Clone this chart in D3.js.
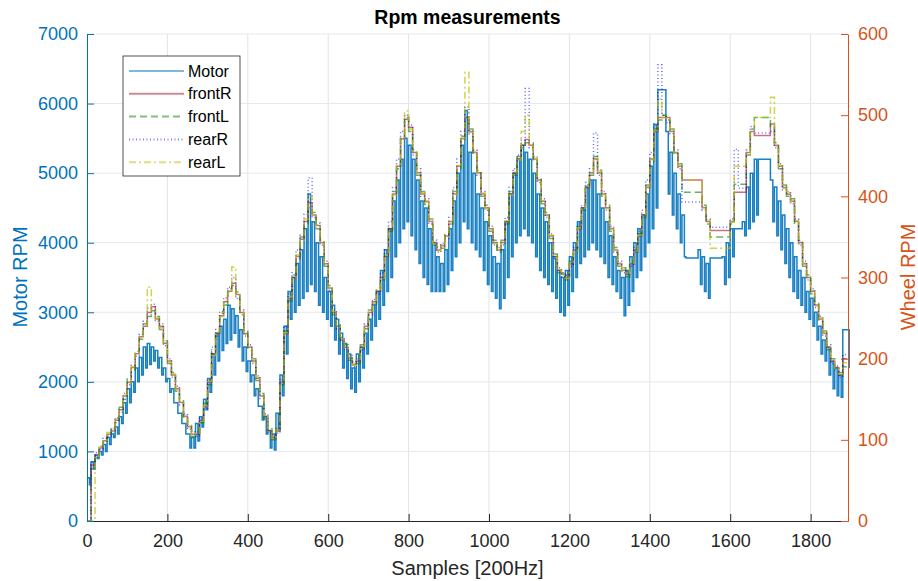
<!DOCTYPE html>
<html>
<head>
<meta charset="utf-8">
<script src="https://cdn.jsdelivr.net/npm/d3@7"></script>
<style>
  body { margin: 0; background: #fff; }
  svg { font-family: "Liberation Sans", Arial, sans-serif; }
</style>
</head>
<body>
<svg id="chart" width="918" height="581"></svg>
<script>
// samples step 10 (0..1890), motor as upper / lower values of the noisy band
var motorHi = [620,850,950,1000,1100,1200,1250,1350,1500,1700,
  1900,2000,2200,2350,2500,2550,2500,2450,2350,2200,
  2050,1900,1700,1550,1400,1250,1200,1400,1500,1750,
  2050,2400,2700,2800,2900,3100,3050,2950,2750,2500,
  2300,2100,1900,1650,1500,1300,1250,1550,2100,2800,
  3300,3500,3700,3900,4200,4700,4300,4000,3800,3500,
  3300,3100,2900,2700,2550,2400,2200,2400,2500,2700,
  2900,3100,3300,3600,3900,4200,4600,4900,5200,5500,
  5400,5200,4900,4600,4500,4200,4000,3800,3700,3900,
  4200,4600,5000,5400,5900,5300,5000,4700,4500,4300,
  4100,3800,3700,3900,4300,4700,5000,5200,5400,5300,
  5200,5000,4700,4500,4300,4000,3800,3600,3500,3600,
  3800,4000,4300,4500,4800,4900,4900,4700,4500,4300,
  4100,3800,3600,3500,3600,3800,4000,4200,4400,4700,
  5100,5700,6200,6200,5600,5300,5000,4700,4400,3780,
  3780,3780,3900,3800,3700,3780,3780,3780,3800,4000,
  4200,4200,4200,4300,4800,5000,5200,5200,5200,5200,
  4900,4800,4600,4400,4200,4000,3800,3600,3500,3300,
  3200,3000,2800,2600,2500,2300,2200,2100,2750,2750];
var motorLo = [520,750,900,950,1000,1100,1200,1250,1400,1550,
  1700,1850,2000,2100,2200,2250,2300,2200,2100,2000,
  1850,1700,1550,1400,1250,1050,1050,1150,1350,1600,
  1850,2100,2300,2450,2550,2600,2700,2500,2300,2150,
  2000,1800,1650,1450,1250,1050,1020,1300,1800,2400,
  2900,3000,3100,3200,3300,3400,3300,3100,3000,2900,
  2800,2600,2400,2200,2050,1900,1850,2000,2200,2400,
  2600,2800,2900,3100,3300,3500,3800,4000,4200,4300,
  4100,3900,3700,3500,3400,3300,3300,3300,3300,3400,
  3600,3800,4000,4300,4200,4000,3900,3800,3600,3400,
  3300,3200,3050,3200,3500,3800,4000,4100,4200,4100,
  4000,3800,3600,3500,3400,3300,3200,3000,2950,3100,
  3300,3500,3700,3800,3900,4000,3900,3800,3700,3500,
  3400,3300,3200,2950,3100,3300,3500,3600,3800,4000,
  4200,4500,6200,6200,4700,4400,4200,4000,3800,3780,
  3780,3780,3400,3300,3200,3780,3780,3780,3400,3500,
  3800,4200,4200,4100,4200,4300,4400,5200,5200,5200,
  4300,4100,3900,3700,3500,3300,3200,3100,3000,2900,
  2800,2600,2400,2300,2100,1900,1800,1780,2750,2200];

// wheel rpm, step 10
var frontR = [0,69,81,90,99,107,111,124,137,154,
  171,189,206,227,240,257,264,249,240,219,
  197,180,163,146,129,116,107,107,124,141,
  171,206,231,253,270,283,293,279,257,231,
  214,197,176,154,129,111,103,111,171,231,
  274,300,326,347,369,392,377,364,343,317,
  287,257,240,223,214,201,193,197,214,240,
  257,270,283,300,326,360,403,437,471,495,
  485,454,429,403,394,369,343,334,339,351,
  369,403,437,471,497,480,454,429,403,386,
  360,343,334,343,369,403,429,446,463,470,
  463,446,420,394,377,351,326,309,304,300,
  317,334,360,386,411,429,446,429,403,386,
  360,334,317,309,304,317,334,351,377,411,
  446,480,497,497,497,480,454,437,420,420,
  420,420,420,386,369,358,358,358,358,358,
  369,405,405,405,454,480,475,475,475,475,
  489,463,437,411,403,394,369,343,317,300,
  283,266,249,231,214,197,189,180,200,200];
var frontL = [0,64,78,92,97,105,113,121,140,150,
  175,186,209,224,243,252,259,252,236,222,
  194,183,160,149,126,118,104,110,121,145,
  168,209,228,256,266,286,290,282,254,234,
  211,200,173,157,126,114,100,114,168,234,
  271,303,323,350,366,386,380,360,346,314,
  290,254,243,220,217,198,196,194,217,237,
  260,267,286,297,329,357,406,434,474,497,
  480,457,426,406,390,372,340,337,336,354,
  366,406,434,474,494,483,451,432,400,389,
  357,346,331,346,366,406,426,449,460,466,
  466,443,423,391,380,348,329,306,306,297,
  320,331,363,383,414,426,449,432,400,389,
  357,337,314,312,301,320,331,354,374,414,
  443,483,494,500,494,483,451,440,405,405,
  405,405,405,389,366,350,350,350,350,350,
  366,415,415,415,451,483,497,497,497,497,
  486,466,434,414,400,397,366,346,314,303,
  280,269,246,234,211,200,186,183,190,190];
var rearR = [0,72,84,88,102,104,114,127,134,157,
  168,192,203,230,246,262,267,246,243,216,
  200,177,166,143,132,113,110,104,127,138,
  174,214,236,258,275,288,300,274,260,228,
  217,194,179,151,132,108,106,108,174,240,
  280,306,334,352,378,423,374,367,340,320,
  284,260,237,226,211,204,190,200,211,243,
  254,273,280,306,334,369,411,446,480,500,
  488,451,434,400,397,366,346,331,342,348,
  374,411,446,480,510,477,457,426,406,383,
  363,340,337,340,374,411,434,451,469,533,
  460,449,417,397,374,354,323,312,301,303,
  314,337,366,389,417,434,478,426,406,383,
  363,331,320,306,307,314,337,357,383,420,
  454,489,562,500,491,477,457,434,393,393,
  393,393,393,383,372,362,362,362,362,362,
  372,458,410,410,457,486,478,478,478,478,
  480,460,440,408,406,391,372,340,320,297,
  286,263,252,228,217,194,191,177,205,205];
var rearL = [0,0,80,91,98,109,110,126,136,156,
  170,190,208,226,242,288,260,250,238,220,
  196,181,162,147,128,117,106,108,123,142,
  172,204,233,252,272,282,313,278,258,230,
  215,196,177,153,130,110,102,112,170,232,
  276,299,328,346,372,400,376,365,342,318,
  286,258,239,224,213,202,192,198,215,238,
  258,269,285,299,327,362,402,438,472,505,
  483,455,428,404,393,370,342,333,340,350,
  370,402,438,472,553,479,455,428,404,385,
  361,342,335,342,370,402,430,445,480,500,
  462,447,419,395,376,352,325,310,303,299,
  318,333,361,385,412,428,447,430,402,385,
  361,333,318,308,305,318,333,352,376,412,
  445,481,520,497,496,481,453,438,420,420,
  420,420,420,387,370,336,336,336,336,336,
  368,437,437,437,453,479,497,497,497,497,
  522,462,438,410,404,393,370,342,318,301,
  284,265,250,232,213,198,188,181,195,195];

var xTicks = [0,200,400,600,800,1000,1200,1400,1600,1800];
var leftTicks = [0,1000,2000,3000,4000,5000,6000,7000];
var rightTicks = [0,100,200,300,400,500,600];
var seriesNames = ["Motor","frontR","frontL","rearR","rearL"];

var svg = d3.select("#chart");
var pLeft = 87, pRight = 848, pTop = 34, pBottom = 521;

var x = d3.scaleLinear().domain([0, 1893]).range([pLeft, pRight]);
var yL = d3.scaleLinear().domain([0, 7000]).range([pBottom, pTop]);
var yR = d3.scaleLinear().domain([0, 600]).range([pBottom, pTop]);

// grid
svg.append("g").selectAll("line").data(xTicks.slice(1)).enter().append("line")
  .attr("x1", function(d) { return x(d); }).attr("x2", function(d) { return x(d); })
  .attr("y1", pTop).attr("y2", pBottom)
  .attr("stroke", "#e3e3e3").attr("stroke-width", 1);
svg.append("g").selectAll("line").data(leftTicks.slice(1)).enter().append("line")
  .attr("x1", pLeft).attr("x2", pRight)
  .attr("y1", function(d) { return yL(d); }).attr("y2", function(d) { return yL(d); })
  .attr("stroke", "#e2e9f0").attr("stroke-width", 1);

// series: motor sits on the upper value, short drops to the lower one
var motorPts = [];
motorHi.forEach(function(v, i) {
  motorPts.push([i * 10, v]);
  motorPts.push([i * 10 + 6, motorLo[i]]);
});
var wheelPts = function(arr) { return arr.map(function(v, i) { return [i * 10, v]; }); };

var plot = svg.append("g");
var lineM = d3.line().curve(d3.curveStepAfter)
  .x(function(d) { return x(d[0]); }).y(function(d) { return yL(d[1]); });
var lineR = d3.line().curve(d3.curveStepAfter)
  .x(function(d) { return x(d[0]); }).y(function(d) { return yR(d[1]); });

var styles = [
  {color: "#0072BD", dash: null, op: 0.9},
  {color: "#A2142F", dash: null, op: 0.6},
  {color: "#008000", dash: "7,4", op: 0.6},
  {color: "#0000FF", dash: "1,2.5", op: 0.6},
  {color: "#BFBF00", dash: "7,3,2,3", op: 0.7}
];

plot.append("path").attr("d", lineM(motorPts))
  .attr("fill", "none").attr("stroke", styles[0].color)
  .attr("stroke-opacity", styles[0].op).attr("stroke-width", 1.5);

[frontR, frontL, rearR, rearL].forEach(function(arr, k) {
  var s = styles[k + 1];
  plot.append("path").attr("d", lineR(wheelPts(arr)))
    .attr("fill", "none").attr("stroke", s.color)
    .attr("stroke-opacity", s.op).attr("stroke-width", 1.5)
    .attr("stroke-dasharray", s.dash);
});

// axes
var xAxis = svg.append("g").attr("transform", "translate(0," + pBottom + ")")
  .call(d3.axisBottom(x).tickValues(xTicks).tickSizeInner(-7).tickSizeOuter(0).tickPadding(13).tickFormat(d3.format("d")));
var lAxis = svg.append("g").attr("transform", "translate(" + pLeft + ",0)")
  .call(d3.axisLeft(yL).tickValues(leftTicks).tickSizeInner(-7).tickSizeOuter(0).tickPadding(9).tickFormat(d3.format("d")));
var rAxis = svg.append("g").attr("transform", "translate(" + pRight + ",0)")
  .call(d3.axisRight(yR).tickValues(rightTicks).tickSizeInner(-7).tickSizeOuter(0).tickPadding(10).tickFormat(d3.format("d")));

function styleAxis(g, c) {
  g.selectAll("path").attr("stroke", c).attr("stroke-width", 1);
  g.selectAll("line").attr("stroke", c);
  g.selectAll("text").attr("fill", c).style("font-size", "18px")
    .style("font-family", "Liberation Sans, Arial, sans-serif");
}
styleAxis(xAxis, "#262626");
styleAxis(lAxis, "#0072BD");
styleAxis(rAxis, "#D95319");

// labels
svg.append("text").attr("x", (pLeft + pRight) / 2).attr("y", 24)
  .attr("text-anchor", "middle").style("font-size", "19.5px").style("font-weight", "bold")
  .attr("fill", "#000").text("Rpm measurements");
svg.append("text").attr("x", (pLeft + pRight) / 2).attr("y", 575)
  .attr("text-anchor", "middle").style("font-size", "20px")
  .attr("fill", "#262626").text("Samples [200Hz]");
svg.append("text").attr("transform", "translate(27,277) rotate(-90)")
  .attr("text-anchor", "middle").style("font-size", "20px")
  .attr("fill", "#0072BD").text("Motor RPM");
svg.append("text").attr("transform", "translate(915,277) rotate(-90)")
  .attr("text-anchor", "middle").style("font-size", "20px")
  .attr("fill", "#D95319").text("Wheel RPM");

// legend
var leg = svg.append("g");
leg.append("rect").attr("x", 123).attr("y", 56).attr("width", 117).attr("height", 120)
  .attr("fill", "#fff").attr("stroke", "#262626").attr("stroke-width", 0.8);
seriesNames.forEach(function(name, i) {
  var yy = 71 + i * 22.8;
  var s = styles[i];
  leg.append("line").attr("x1", 129).attr("x2", 184).attr("y1", yy).attr("y2", yy)
    .attr("stroke", s.color).attr("stroke-opacity", 0.5).attr("stroke-width", 2)
    .attr("stroke-dasharray", s.dash);
  leg.append("text").attr("x", 188).attr("y", yy).attr("dy", "0.35em")
    .style("font-size", "16px").attr("fill", "#000").text(name);
});
</script>
</body>
</html>
